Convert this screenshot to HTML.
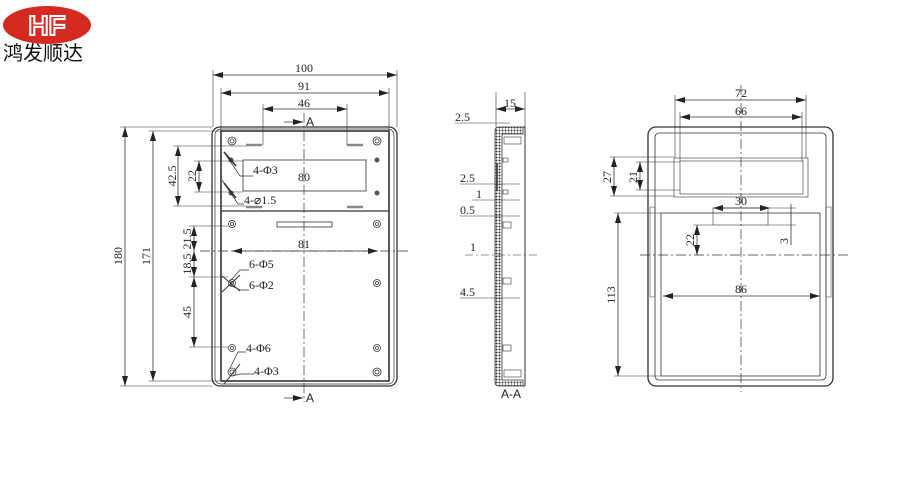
<!DOCTYPE html>
<html><head><meta charset="utf-8"><style>
html,body{margin:0;padding:0;background:#fff;width:900px;height:500px;overflow:hidden}
svg{display:block}
text{font-family:"Liberation Serif","Noto Serif CJK SC",serif;fill:#222;font-size:12px}
</style></head><body>
<svg width="900" height="500" viewBox="0 0 900 500" xmlns="http://www.w3.org/2000/svg">
<defs>
<marker id="a" viewBox="0 0 10 6" refX="10" refY="3" markerWidth="10" markerHeight="6" orient="auto-start-reverse" markerUnits="userSpaceOnUse"><path d="M0,0L10,3L0,6z" fill="#222"/></marker>
<pattern id="h" width="3" height="3" patternUnits="userSpaceOnUse"><rect width="3" height="3" fill="#fff"/><circle cx="1.5" cy="1.5" r="1" fill="#333"/></pattern>
</defs>
<!-- logo -->
<ellipse cx="47" cy="25" rx="44" ry="19" fill="#d42a22"/>
<text x="47" y="35" text-anchor="middle" style="font-family:'Liberation Sans',sans-serif;font-size:28px;font-weight:bold;fill:#d42a22;stroke:#fff;stroke-width:2">HF</text>
<text x="3" y="60" style="font-family:'Liberation Sans','Noto Sans CJK SC',sans-serif;font-size:20px;fill:#111">鸿发顺达</text>

<g stroke="#333" fill="none" stroke-width="1">
<!-- FRONT VIEW -->
<rect x="212" y="127" width="185" height="259" rx="8" stroke-width="1.3"/>
<rect x="215" y="129" width="179" height="255" rx="6" stroke-width="0.7"/>
<rect x="221" y="131" width="168" height="250" stroke-width="1.6"/>
<line x1="221" y1="211" x2="389" y2="211" stroke-width="1.2"/>
<rect x="243" y="160" width="123" height="31" stroke-width="0.8"/>
<rect x="277" y="222" width="55" height="5" stroke-width="0.8"/>
<g stroke="#888" stroke-width="2.5"><line x1="246" y1="145" x2="262" y2="145"/><line x1="347" y1="145" x2="363" y2="145"/><line x1="246" y1="207" x2="262" y2="207"/><line x1="347" y1="207" x2="363" y2="207"/></g>
<g stroke-width="0.8">
<circle cx="232" cy="141" r="4"/><circle cx="232" cy="141" r="2"/>
<circle cx="377" cy="141" r="4"/><circle cx="377" cy="141" r="2"/>
<circle cx="232" cy="224" r="3.5"/><circle cx="232" cy="224" r="1.5"/>
<circle cx="377" cy="224" r="3.5"/><circle cx="377" cy="224" r="1.5"/>
<circle cx="232" cy="283" r="3.5"/><circle cx="232" cy="283" r="1.5"/>
<circle cx="377" cy="283" r="3.5"/><circle cx="377" cy="283" r="1.5"/>
<circle cx="232" cy="348" r="3.5"/><circle cx="232" cy="348" r="1.5"/>
<circle cx="377" cy="348" r="3.5"/><circle cx="377" cy="348" r="1.5"/>
<circle cx="232" cy="372" r="4"/><circle cx="232" cy="372" r="2"/>
<circle cx="377" cy="372" r="4"/><circle cx="377" cy="372" r="2"/>
</g>
<g fill="#555" stroke="none"><circle cx="377" cy="160" r="2.5"/><circle cx="377" cy="193" r="2.5"/><circle cx="231" cy="160" r="2.5"/><circle cx="231" cy="193" r="2.5"/></g>
<line x1="304" y1="113" x2="304" y2="402" stroke-dasharray="10,3,2,3" stroke-width="0.7"/>
<line x1="200" y1="251" x2="410" y2="251" stroke-dasharray="10,3,2,3" stroke-width="0.7"/>
<g stroke-width="0.6">
<line x1="213" y1="70" x2="213" y2="127"/><line x1="397" y1="70" x2="397" y2="127"/>
<line x1="221" y1="88" x2="221" y2="131"/><line x1="389" y1="88" x2="389" y2="131"/>
<line x1="263" y1="104" x2="263" y2="145"/><line x1="347" y1="104" x2="347" y2="145"/>
<line x1="120" y1="127" x2="212" y2="127"/><line x1="120" y1="386" x2="212" y2="386"/>
<line x1="148" y1="131" x2="221" y2="131"/><line x1="148" y1="381" x2="221" y2="381"/>
<line x1="173" y1="146" x2="246" y2="146"/><line x1="173" y1="206" x2="246" y2="206"/>
<line x1="194" y1="161" x2="243" y2="161"/><line x1="194" y1="192" x2="243" y2="192"/>
<line x1="189" y1="226" x2="228" y2="226"/><line x1="189" y1="277" x2="228" y2="277"/><line x1="189" y1="347" x2="228" y2="347"/>
</g>
<g stroke-width="0.8" marker-start="url(#a)" marker-end="url(#a)">
<line x1="213" y1="75" x2="397" y2="75"/>
<line x1="221" y1="93" x2="389" y2="93"/>
<line x1="263" y1="109" x2="347" y2="109"/>
<line x1="232" y1="251" x2="378" y2="251"/>
<line x1="125" y1="127" x2="125" y2="386"/>
<line x1="153" y1="131" x2="153" y2="381"/>
<line x1="178" y1="146" x2="178" y2="206"/>
<line x1="199" y1="161" x2="199" y2="192"/>
<line x1="194" y1="226" x2="194" y2="251"/>
<line x1="194" y1="251" x2="194" y2="277"/>
<line x1="194" y1="277" x2="194" y2="347"/>
</g>
<g stroke-width="0.8" marker-end="url(#a)"><line x1="284" y1="122" x2="303" y2="122"/><line x1="284" y1="398" x2="303" y2="398"/></g>
<g stroke-width="0.7">
<polyline points="253,176 240,176 224,152"/><line x1="224" y1="152" x2="236" y2="166" stroke-width="1.6"/>
<polyline points="244,204 238,204 222,180"/><line x1="224" y1="183" x2="236" y2="198" stroke-width="1.6"/>
<polyline points="249,270 240,270 230,281"/><polyline points="249,290 240,290 230,285"/>
<line x1="222" y1="292" x2="240" y2="275" stroke-width="1"/><line x1="222" y1="276" x2="240" y2="291" stroke-width="1"/>
<polyline points="246,352 238,352 230,368"/><polyline points="254,374 240,374 232,376"/>
<line x1="224" y1="384" x2="240" y2="364" stroke-width="1"/>
</g>

<!-- SIDE VIEW -->
<path d="M495,131 Q495,127 499,127 L523,127 L523,134 L502,134 L502,380 L523,380 L523,386 L499,386 Q495,386 495,382 Z" fill="url(#h)" stroke-width="0.8"/>
<line x1="523" y1="127" x2="525" y2="127"/><line x1="525" y1="127" x2="525" y2="386"/><line x1="523" y1="386" x2="525" y2="386"/>
<rect x="504" y="137" width="17" height="7" stroke-width="0.6"/><rect x="504" y="370" width="17" height="7" stroke-width="0.6"/>
<line x1="497" y1="163" x2="497" y2="191" stroke-width="1.6"/>
<g stroke-width="0.6"><rect x="503" y="158" width="5" height="4"/><rect x="503" y="190" width="5" height="4"/><rect x="503" y="222" width="8" height="6"/><rect x="503" y="278" width="8" height="6"/><rect x="503" y="345" width="8" height="6"/></g>
<g stroke-width="0.6">
<line x1="496" y1="92" x2="496" y2="127"/><line x1="525" y1="92" x2="525" y2="127"/>
<line x1="455" y1="123" x2="510" y2="123"/>
<line x1="460" y1="184" x2="520" y2="184"/>
<line x1="472" y1="200" x2="520" y2="200"/>
<line x1="460" y1="216" x2="520" y2="216"/>
<line x1="465" y1="255" x2="540" y2="255" stroke-dasharray="8,3,2,3"/>
<line x1="460" y1="298" x2="520" y2="298"/>
</g>
<g stroke-width="0.8" marker-start="url(#a)" marker-end="url(#a)"><line x1="496" y1="109" x2="525" y2="109"/></g>

<!-- RIGHT VIEW -->
<rect x="648" y="127" width="185" height="259" rx="8" stroke-width="1.3"/>
<rect x="655" y="133" width="171" height="247" rx="4" stroke-width="0.8"/>
<rect x="674" y="158" width="134" height="39" stroke-width="0.6"/>
<rect x="680" y="161" width="123" height="33" stroke-width="0.6"/>
<rect x="661" y="213" width="159" height="163" stroke-width="0.8"/>
<rect x="713" y="208" width="55" height="17" stroke-width="0.6"/>
<g stroke-width="0.5"><rect x="650" y="207" width="5" height="90"/><rect x="826" y="207" width="5" height="90"/></g>
<line x1="741" y1="85" x2="741" y2="392" stroke-dasharray="10,3,2,3" stroke-width="0.7"/>
<line x1="640" y1="255" x2="850" y2="255" stroke-dasharray="10,3,2,3" stroke-width="0.7"/>
<g stroke-width="0.6">
<line x1="675" y1="95" x2="675" y2="158"/><line x1="806" y1="95" x2="806" y2="158"/>
<line x1="680" y1="112" x2="680" y2="161"/><line x1="802" y1="112" x2="802" y2="161"/>
<line x1="610" y1="157" x2="674" y2="157"/><line x1="610" y1="196" x2="674" y2="196"/>
<line x1="636" y1="162" x2="680" y2="162"/><line x1="636" y1="190" x2="680" y2="190"/>
<line x1="614" y1="213" x2="661" y2="213"/><line x1="614" y1="376" x2="661" y2="376"/>
<line x1="693" y1="225" x2="713" y2="225"/>
<line x1="768" y1="225" x2="796" y2="225"/>
<line x1="768" y1="208" x2="796" y2="208"/>
</g>
<g stroke-width="0.8" marker-start="url(#a)" marker-end="url(#a)">
<line x1="675" y1="100" x2="806" y2="100"/>
<line x1="680" y1="117" x2="802" y2="117"/>
<line x1="614" y1="157" x2="614" y2="196"/>
<line x1="640" y1="162" x2="640" y2="190"/>
<line x1="618" y1="213" x2="618" y2="376"/>
<line x1="713" y1="208" x2="770" y2="208"/>
<line x1="697" y1="225" x2="697" y2="255"/>
<line x1="663" y1="296" x2="820" y2="296"/>
</g>
<line x1="791" y1="204" x2="791" y2="245" stroke-width="0.8"/>
</g>

<text x="304" y="72" text-anchor="middle">100</text>
<text x="304" y="90" text-anchor="middle">91</text>
<text x="304" y="107" text-anchor="middle">46</text>
<text x="306" y="126" style="font-family:'Liberation Sans',sans-serif">A</text>
<text x="306" y="402" style="font-family:'Liberation Sans',sans-serif">A</text>
<text x="253" y="174">4-Φ3</text>
<text x="298" y="181">80</text>
<text x="244" y="204">4-⌀1.5</text>
<text x="304" y="248" text-anchor="middle">81</text>
<text x="249" y="268">6-Φ5</text>
<text x="249" y="289">6-Φ2</text>
<text x="246" y="352">4-Φ6</text>
<text x="254" y="375">4-Φ3</text>
<text transform="translate(122,256) rotate(-90)" text-anchor="middle">180</text>
<text transform="translate(150,256) rotate(-90)" text-anchor="middle">171</text>
<text transform="translate(176,176) rotate(-90)" text-anchor="middle">42.5</text>
<text transform="translate(196,176) rotate(-90)" text-anchor="middle">22</text>
<text transform="translate(191,239) rotate(-90)" text-anchor="middle">21.5</text>
<text transform="translate(191,264) rotate(-90)" text-anchor="middle">18.5</text>
<text transform="translate(191,312) rotate(-90)" text-anchor="middle">45</text>

<text x="510" y="107" text-anchor="middle">15</text>
<text x="455" y="121">2.5</text>
<text x="460" y="182">2.5</text>
<text x="476" y="198">1</text>
<text x="460" y="214">0.5</text>
<text x="470" y="251">1</text>
<text x="460" y="296">4.5</text>
<text x="511" y="398" text-anchor="middle" style="font-family:'Liberation Sans',sans-serif">A-A</text>

<text x="741" y="97" text-anchor="middle">72</text>
<text x="741" y="115" text-anchor="middle">66</text>
<text transform="translate(611,177) rotate(-90)" text-anchor="middle">27</text>
<text transform="translate(637,177) rotate(-90)" text-anchor="middle">21</text>
<text x="741" y="205" text-anchor="middle">30</text>
<text transform="translate(694,240) rotate(-90)" text-anchor="middle">22</text>
<text transform="translate(788,241) rotate(-90)" text-anchor="middle">3</text>
<text transform="translate(615,295) rotate(-90)" text-anchor="middle">113</text>
<text x="741" y="293" text-anchor="middle">86</text>
</svg>
</body></html>
